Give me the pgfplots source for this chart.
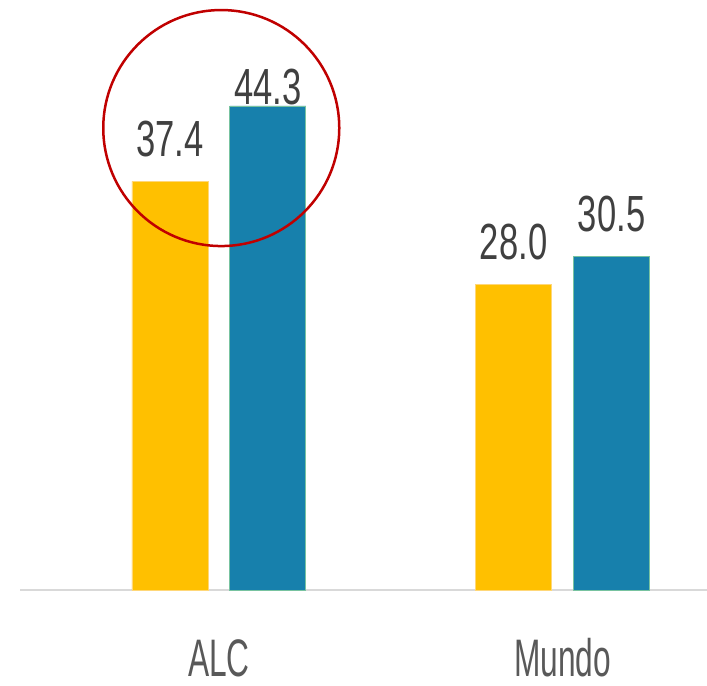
\documentclass[border=0pt]{standalone}
\usepackage{fontspec}
\setmainfont{Liberation Sans}
\usepackage{pgfplots}
\pgfplotsset{compat=1.18}
\definecolor{cyel}{RGB}{255,192,0}
\definecolor{cteal}{RGB}{23,128,172}
\definecolor{cred}{RGB}{192,0,0}
\definecolor{clab}{RGB}{64,64,64}
\definecolor{ctick}{RGB}{89,89,89}
\definecolor{caxis}{RGB}{217,217,217}
\begin{document}
\begin{tikzpicture}
\begin{axis}[
  name=ax,
  scale only axis,
  width=687bp, height=590bp,
  xmin=-0.5785, xmax=1.4201,
  ymin=0, ymax=54.0,
  ybar=22bp, bar width=76bp,
  axis x line=bottom, axis y line=none,
  axis line style={caxis, line width=1.5bp, -},
  xtick={0,1}, xticklabels={ALC,Mundo},
  major tick length=0pt,
  xticklabel style={font=\fontsize{53}{53}\selectfont, text=ctick, xscale=0.6, anchor=base, inner sep=0pt, yshift=-86bp},
  ytick=\empty,
  clip=false,
  /pgf/number format/fixed,
  /pgf/number format/fixed zerofill,
  /pgf/number format/precision=1,
  /pgf/number format/assume math mode=true,
  visualization depends on={y \as \rawy},
  nodes near coords,
  nodes near coords style={font=\fontsize{51}{51}\selectfont, text=clab, xscale=0.68, anchor=base, inner sep=0pt},
  every node near coord/.append style={yshift={ifthenelse(\rawy>40,1,25)}},
]
\addplot[fill=cyel, draw={rgb,255:red,255;green,215;blue,120}, line width=0.6bp] coordinates {(0,37.4) (1,28.0)};
\addplot[fill=cteal, draw={rgb,255:red,120;green,195;blue,160}, line width=0.8bp] coordinates {(0,44.3) (1,30.5)};
\draw[cred, line width=2.5bp] (axis cs:0.007,42.28) circle[radius=118bp];
\end{axis}
\pgfresetboundingbox
\path[use as bounding box] ([shift={(-20bp,-96bp)}]ax.south west) rectangle ([shift={(687bp,590bp)}]ax.south west);
\end{tikzpicture}
\end{document}
